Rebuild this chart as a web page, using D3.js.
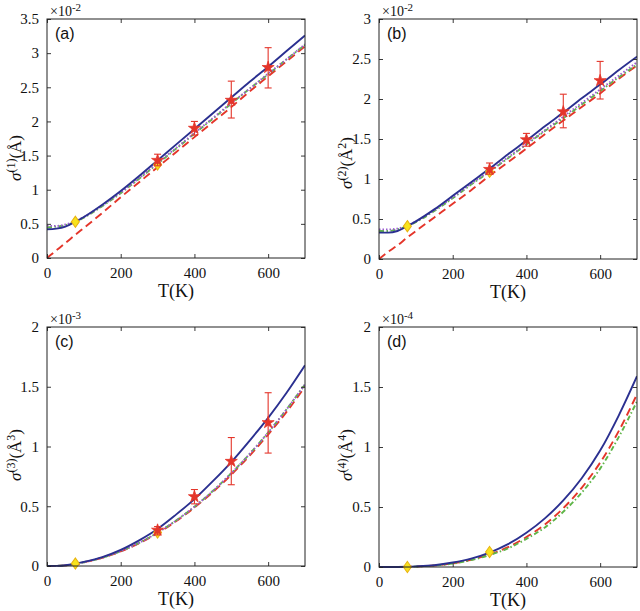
<!DOCTYPE html>
<html>
<head>
<meta charset="utf-8">
<script src="https://cdn.jsdelivr.net/npm/d3@7"></script>
<style>
  html, body { margin: 0; padding: 0; background: #fff; }
  svg { display: block; }
</style>
</head>
<body>
<div id="chart"></div>
<script>
// ---------------- DATA ----------------
const temps = [0, 25, 50, 77, 100, 150, 200, 250, 300, 350, 400, 450, 500, 550, 600, 650, 700];
const xTicks = [0, 200, 400, 600];

// Panel (a)  sigma(1), x 1e-2 Å
const blueA   = [0.42, 0.43, 0.46, 0.53, 0.60, 0.78, 0.98, 1.20, 1.43, 1.66, 1.89, 2.12, 2.35, 2.58, 2.80, 3.03, 3.26];
const purpleA = [0.47, 0.47, 0.49, 0.54, 0.60, 0.77, 0.96, 1.17, 1.39, 1.61, 1.83, 2.05, 2.27, 2.48, 2.70, 2.91, 3.13];
const greenA  = [0.45, 0.46, 0.48, 0.53, 0.59, 0.76, 0.95, 1.16, 1.38, 1.60, 1.82, 2.04, 2.26, 2.48, 2.69, 2.91, 3.12];
const redA    = [0.00, 0.11, 0.22, 0.34, 0.44, 0.66, 0.89, 1.11, 1.33, 1.55, 1.77, 1.99, 2.21, 2.44, 2.66, 2.88, 3.10];
const yTicksA = [0, 0.5, 1, 1.5, 2, 2.5, 3, 3.5];
const starT   = [300, 400, 500, 600];
const starA   = [1.43, 1.90, 2.31, 2.79];
const loA     = [1.35, 1.80, 2.05, 2.49];
const hiA     = [1.52, 2.00, 2.59, 3.08];
const diamT   = [77, 300];
const diamA   = [0.53, 1.37];

// Panel (b)  sigma(2), x 1e-2 Å^2
const blueB   = [0.33, 0.33, 0.35, 0.41, 0.47, 0.62, 0.79, 0.96, 1.13, 1.31, 1.48, 1.66, 1.83, 2.01, 2.18, 2.36, 2.53];
const purpleB = [0.37, 0.37, 0.38, 0.42, 0.47, 0.61, 0.77, 0.94, 1.10, 1.27, 1.44, 1.61, 1.78, 1.95, 2.12, 2.29, 2.46];
const greenB  = [0.35, 0.35, 0.37, 0.41, 0.46, 0.60, 0.76, 0.93, 1.09, 1.26, 1.43, 1.60, 1.76, 1.93, 2.10, 2.27, 2.43];
const redB    = [0.00, 0.09, 0.17, 0.27, 0.35, 0.52, 0.69, 0.86, 1.04, 1.21, 1.38, 1.56, 1.73, 1.90, 2.07, 2.25, 2.42];
const yTicksB = [0, 0.5, 1, 1.5, 2, 2.5, 3];
const starB   = [1.12, 1.49, 1.84, 2.23];
const loB     = [1.06, 1.41, 1.64, 2.00];
const hiB     = [1.20, 1.57, 2.06, 2.47];
const diamB   = [0.41, 1.09];

// Panel (c)  sigma(3), x 1e-3 Å^3
const blueC   = [0, 0.001, 0.006, 0.020, 0.035, 0.075, 0.135, 0.215, 0.31, 0.43, 0.56, 0.71, 0.87, 1.05, 1.24, 1.45, 1.68];
const purpleC = [0, 0.001, 0.005, 0.017, 0.031, 0.070, 0.124, 0.194, 0.279, 0.38, 0.496, 0.628, 0.776, 0.939, 1.117, 1.311, 1.52];
const greenC  = [0, 0.001, 0.005, 0.017, 0.031, 0.070, 0.124, 0.194, 0.279, 0.38, 0.496, 0.628, 0.776, 0.939, 1.117, 1.311, 1.52];
const redC    = [0, 0.001, 0.005, 0.012, 0.030, 0.069, 0.122, 0.190, 0.275, 0.374, 0.489, 0.619, 0.764, 0.924, 1.10, 1.29, 1.50];
const yTicksC = [0, 0.5, 1, 1.5, 2];
const starC   = [0.30, 0.58, 0.876, 1.20];
const loC     = [0.26, 0.52, 0.68, 0.945];
const hiC     = [0.33, 0.64, 1.075, 1.45];
const diamC   = [0.02, 0.28];

// Panel (d)  sigma(4), x 1e-4 Å^4
const blueD   = [0, 0.0, 0.0005, 0.002, 0.005, 0.015, 0.037, 0.07, 0.12, 0.19, 0.285, 0.405, 0.555, 0.74, 0.97, 1.26, 1.59];
const greenD  = [0, 0.0, 0.0004, 0.0015, 0.004, 0.012, 0.028, 0.057, 0.10, 0.155, 0.235, 0.33, 0.46, 0.62, 0.82, 1.08, 1.38];
const redD    = [0, 0.0, 0.0004, 0.0016, 0.004, 0.013, 0.030, 0.060, 0.105, 0.165, 0.25, 0.355, 0.49, 0.66, 0.87, 1.13, 1.44];
const yTicksD = [0, 0.5, 1, 1.5, 2];
const diamD   = [0.0, 0.125];

// ---------------- STYLE ----------------
const COL = { blue: "#2b3090", purple: "#9a5cd0", green: "#5fb548", red: "#e4352a", yellow: "#f7e31c" };
const SERIF = "Liberation Serif";
const SANS = "Liberation Sans";

const svg = d3.select("#chart").append("svg").attr("width", 640).attr("height", 611);
svg.append("rect").attr("width", 640).attr("height", 611).attr("fill", "#fff");

const panels = [
  { id: "(a)", box: [47, 305, 19, 258], ymax: 3.5, yTicks: yTicksA, exp: "-2", order: "1", unitSup: null,
    series: { blue: blueA, purple: purpleA, green: greenA, red: redA },
    stars: starA, lo: loA, hi: hiA, diam: diamA, yl: [21, 158] },
  { id: "(b)", box: [379, 637, 19, 259], ymax: 3, yTicks: yTicksB, exp: "-2", order: "2", unitSup: "2",
    series: { blue: blueB, purple: purpleB, green: greenB, red: redB },
    stars: starB, lo: loB, hi: hiB, diam: diamB, yl: [352, 163] },
  { id: "(c)", box: [47, 305, 327, 566], ymax: 2, yTicks: yTicksC, exp: "-3", order: "3", unitSup: "3",
    series: { blue: blueC, purple: purpleC, green: greenC, red: redC },
    stars: starC, lo: loC, hi: hiC, diam: diamC, yl: [21, 455] },
  { id: "(d)", box: [379, 637, 327, 567], ymax: 2, yTicks: yTicksD, exp: "-4", order: "4", unitSup: "4",
    series: { blue: blueD, green: greenD, red: redD },
    stars: null, diam: diamD, yl: [352, 455] }
];

const styles = {
  red:    { color: COL.red, dash: "8,4.5", w: 1.9 },
  green:  { color: COL.green, dash: "5,2.5,1.5,2.5", w: 1.9 },
  purple: { color: COL.purple, dash: "1.5,2", w: 1.9 },
  blue:   { color: COL.blue, dash: null, w: 1.9 }
};
const drawOrder = ["red", "green", "purple", "blue"];

panels.forEach(p => {
  const [L, R, T, B] = p.box;
  const x = d3.scaleLinear().domain([0, 700]).range([L, R]);
  const y = d3.scaleLinear().domain([0, p.ymax]).range([B, T]);
  const g = svg.append("g");

  const clipId = "clip" + p.id.replace(/\W/g, "");
  svg.append("clipPath").attr("id", clipId).append("rect")
    .attr("x", L).attr("y", T - 2).attr("width", R - L).attr("height", B - T + 4);

  // curves
  const line = d3.line().x((d, i) => x(temps[i])).y(d => y(d)).curve(d3.curveMonotoneX);
  const cg = g.append("g").attr("clip-path", `url(#${clipId})`);
  drawOrder.forEach(k => {
    if (!p.series[k]) return;
    const s = styles[k];
    cg.append("path").datum(p.series[k]).attr("d", line)
      .attr("fill", "none").attr("stroke", s.color).attr("stroke-width", s.w)
      .attr("stroke-dasharray", s.dash);
  });

  // diamonds
  const diamondPath = d3.symbol().type(d3.symbolDiamond).size(30);
  p.diam.forEach((v, i) => {
    g.append("path").attr("d", diamondPath)
      .attr("transform", `translate(${x(diamT[i])},${y(v)}) scale(1.35,1.1)`)
      .attr("fill", COL.yellow).attr("stroke", "#e8b210").attr("stroke-width", 0.8);
  });

  // stars with error bars
  if (p.stars) {
    const starPath = d3.symbol().type(d3.symbolStar).size(45);
    p.stars.forEach((v, i) => {
      const cx = x(starT[i]);
      const eb = g.append("g").attr("stroke", COL.red).attr("stroke-width", 1.1);
      eb.append("line").attr("x1", cx).attr("x2", cx).attr("y1", y(p.lo[i])).attr("y2", y(p.hi[i]));
      eb.append("line").attr("x1", cx - 3.5).attr("x2", cx + 3.5).attr("y1", y(p.lo[i])).attr("y2", y(p.lo[i]));
      eb.append("line").attr("x1", cx - 3.5).attr("x2", cx + 3.5).attr("y1", y(p.hi[i])).attr("y2", y(p.hi[i]));
      g.append("path").attr("d", starPath).attr("transform", `translate(${cx},${y(v)})`)
        .attr("fill", COL.red).attr("stroke", COL.red).attr("stroke-width", 0.8);
    });
  }

  // axes box with inward ticks (all four sides)
  const axisStyle = sel => {
    sel.attr("font-family", SERIF);
    sel.select(".domain").remove();
    sel.selectAll(".tick line").attr("stroke", "#222").attr("stroke-width", 0.9);
    sel.selectAll(".tick text").style("font-family", SERIF).style("font-size", "15px").attr("fill", "#111");
  };
  g.append("g").attr("transform", `translate(0,${B})`)
    .call(d3.axisBottom(x).tickValues(xTicks).tickSize(-4).tickPadding(9).tickFormat(d3.format("d")))
    .call(axisStyle);
  g.append("g").attr("transform", `translate(0,${T})`)
    .call(d3.axisTop(x).tickValues(xTicks).tickSize(-4).tickFormat(""))
    .call(axisStyle);
  g.append("g").attr("transform", `translate(${L},0)`)
    .call(d3.axisLeft(y).tickValues(p.yTicks).tickSize(-4).tickPadding(8).tickFormat(d => d3.format("")(d)))
    .call(axisStyle);
  g.append("g").attr("transform", `translate(${R},0)`)
    .call(d3.axisRight(y).tickValues(p.yTicks).tickSize(-4).tickFormat(""))
    .call(axisStyle);
  g.append("rect").attr("x", L).attr("y", T).attr("width", R - L).attr("height", B - T)
    .attr("fill", "none").attr("stroke", "#222").attr("stroke-width", 1);

  // x label
  g.append("text").attr("x", (L + R) / 2).attr("y", B + 39).attr("text-anchor", "middle")
    .style("font-family", SERIF).style("font-size", "18px").attr("fill", "#111").text("T(K)");

  // exponent
  const ex = g.append("text").attr("x", L + 3).attr("y", T - 3)
    .style("font-family", SERIF).style("font-size", "14px").attr("fill", "#111");
  ex.append("tspan").text("×10");
  ex.append("tspan").attr("dy", -5).style("font-size", "11px").text(p.exp);

  // panel id
  g.append("text").attr("x", L + 8).attr("y", T + 20)
    .style("font-family", SANS).style("font-size", "16px").attr("fill", "#111").text(p.id);

  // y label
  const yl = g.append("text").attr("transform", `translate(${p.yl[0]},${p.yl[1]}) rotate(-90)`)
    .attr("text-anchor", "middle").style("font-family", SERIF).style("font-size", "17px").attr("fill", "#111");
  yl.append("tspan").style("font-style", "italic").text("σ");
  yl.append("tspan").attr("dy", -6).style("font-size", "12px").text(`(${p.order})`);
  yl.append("tspan").attr("dy", 6).text("(Å");
  if (p.unitSup) {
    yl.append("tspan").attr("dy", -6).style("font-size", "12px").text(p.unitSup);
    yl.append("tspan").attr("dy", 6).text(")");
  } else {
    yl.append("tspan").text(")");
  }
});
</script>
</body>
</html>
